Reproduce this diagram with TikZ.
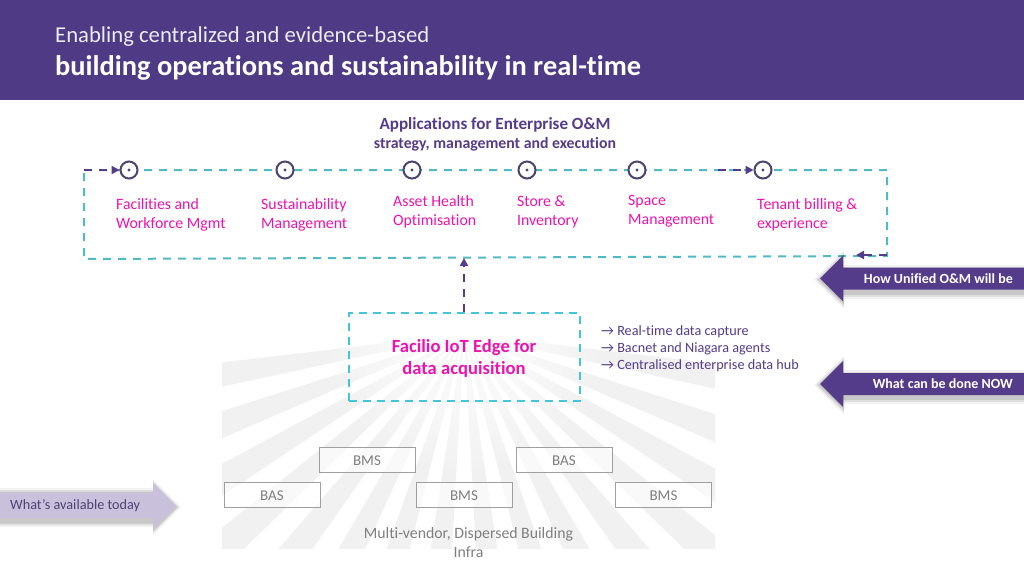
\documentclass[tikz,border=0pt]{standalone}
\usepackage{fontspec}
\setmainfont{Carlito}[Ligatures=NoCommon]
\usetikzlibrary{arrows.meta}
\definecolor{hdr}{HTML}{4F3A85}
\definecolor{pur}{HTML}{553C8B}
\definecolor{mag}{HTML}{EC14AE}
\definecolor{teal1}{HTML}{52BAC4}
\definecolor{cyan1}{HTML}{45C5DD}
\definecolor{ray}{HTML}{F1F1F1}
\definecolor{lil}{HTML}{C9C1DC}
\definecolor{gtx}{HTML}{7F7F7F}
\definecolor{dot}{HTML}{4D4373}
\tikzset{
 fs/.style={font=\fontsize{#1}{#1}\selectfont},
 app/.style={align=left,anchor=west,text=mag,font=\fontsize{15.8}{19}\selectfont},
 dotc/.style={circle,draw=dot,line width=2pt,minimum size=17pt,inner sep=0pt,fill=white},
 tealdash/.style={draw=teal1,line width=2pt,dash pattern=on 8pt off 7pt},
 purdash/.style={draw=pur,line width=2pt,dash pattern=on 8pt off 7pt,-{Triangle[length=8pt,width=8pt]}},
 bx/.style={draw=gray!75,line width=1pt,fill=white,fill opacity=.6,text opacity=1,minimum width=96pt,minimum height=25pt,text=gtx,fs=15,inner sep=0,text height=11pt,text depth=0pt},
 tag/.style={font=\bfseries\fontsize{14}{14}\selectfont,text=white,anchor=east},
}
\begin{document}
\begin{tikzpicture}[x=1pt,y=-1pt,every node/.style={inner sep=0pt}]
\useasboundingbox (0,0) rectangle (1024,576);
\fill[white] (0,0) rectangle (1024,576);
\fill[hdr] (0,0) rectangle (1024,100);
\node[anchor=base west,text=white!90!hdr,fs=22.7] (t1) at (55,42) {Enabling centralized and evidence-based};
\node[anchor=base west,text=white,font=\bfseries\fontsize{28.4}{28.4}\selectfont] (t2) at (55,75) {building operations and sustainability in real-time};
\node[text=pur,font=\bfseries\fontsize{17.1}{17}\selectfont] (h1) at (495,124.5) {Applications for Enterprise O\&M};
\node[text=pur,font=\bfseries\fontsize{15.8}{15}\selectfont] (h2) at (495,144.5) {strategy, management and execution};
% rays
\begin{scope}
\clip (222,342) rectangle (715,548);
\begin{scope}[shift={(464,334)}]
\foreach \a in {9.5,20.5,31,41.5,52,62.5,73,84,96,107,117.5,128,138.5,149,159.5,170.5}{
  \fill[ray] (0,0) -- (\a-2.8:700) -- (\a+2.8:700) -- cycle;
}
\foreach \r in {135,125,115,105,95,85,75,65,55,45}{
  \fill[white,opacity=.14] (0,0) circle (\r);
}
\end{scope}
\end{scope}
% loop
\coordinate (lt) at (84,170);
\coordinate (rt) at (887,170);
\coordinate (rb) at (887,256);
\coordinate (lb) at (84,259);
\coordinate (mid) at (464,258);
\draw[tealdash] (lt) -- (rt) -- (rb) -- (lb) -- cycle;
\node[dotc] (c1) at (129,170) {};
\node[dotc] (c2) at (285,170) {};
\node[dotc] (c3) at (412,170) {};
\node[dotc] (c4) at (527,170) {};
\node[dotc] (c5) at (637,170) {};
\node[dotc] (c6) at (763,170) {};
\foreach \c in {c1,c2,c3,c4,c5,c6}{\fill[dot] (\c) circle (1.6pt);}
\coordinate (p6) at (718,170);
\coordinate (rbe) at (856,255);
\draw[purdash] (lt) -- (c1);
\draw[purdash] (p6) -- (c6);
\draw[purdash] (rb|-rbe) -- (rbe);
\node[app] (a1) at (116,214.5) {Facilities and\\Workforce Mgmt};
\node[app] (a2) at (261,214.5) {Sustainability\\Management};
\node[app] (a3) at (393,212) {Asset Health\\Optimisation};
\node[app] (a4) at (517,212) {Store \&\\Inventory};
\node[app] (a5) at (628,211.5) {Space\\Management};
\node[app] (a6) at (757,214.5) {Tenant billing \&\\experience};
% edge
\node[draw=cyan1,line width=2pt,dash pattern=on 8pt off 6pt,minimum width=231pt,minimum height=88pt,align=center,text=mag,font=\bfseries\fontsize{18.6}{22}\selectfont,text depth=1pt] (edge) at (464,357) {Facilio IoT Edge for\\data acquisition};
\draw[purdash] (edge.north) -- (edge.north|-mid);
\node[anchor=west,text=pur,align=left,font=\fontsize{14.2}{17}\selectfont] (list) at (601,348.5) {→ Real-time data capture\\→ Bacnet and Niagara agents\\→ Centralised enterprise data hub};
% boxes
\node[bx] (b1) at (367,460) {BMS};
\node[bx] (b2) at (564,460) {BAS};
\node[bx] (b3) at (272,495) {BAS};
\node[bx] (b4) at (464,495) {BMS};
\node[bx] (b5) at (663.5,495) {BMS};
\node[text=gtx,align=center,font=\fontsize{15.8}{19}\selectfont] (cap) at (468.5,542.5) {Multi-vendor, Dispersed Building\\Infra};
% tags
\foreach \y/\h in {278.5/How Unified O\&M will be,384/What can be done NOW}{
 \foreach \i/\o in {6/.05,4/.08,2/.1}{
   \fill[black,opacity=\o] (1024,\y-10-\i+2) -- (843,\y-10-\i+2) -- (843,\y+\i+14) -- (1024,\y+\i+14) -- cycle;
   \fill[black,opacity=\o] (844,\y-22-\i) -- (820-\i,\y+1) -- (844,\y+24+\i) -- cycle;
 }
 \fill[pur] (1024,\y-11) -- (843,\y-11) -- (843,\y-23) -- (820,\y) -- (843,\y+23) -- (843,\y+11) -- (1024,\y+11) -- cycle;
 \node[tag] at (1013,\y) {\h};
}
\foreach \i/\o in {5/.05,3/.08,1.5/.1}{
 \fill[black,opacity=\o] (0,491-\i+2) -- (153,491-\i+2) -- (153,484-\i) -- (176+\i,507) -- (153,530+\i) -- (153,522+\i) -- (0,522+\i) -- cycle;
}
\fill[lil] (0,493) -- (153,493) -- (153,483) -- (176,506) -- (153,528) -- (153,518) -- (0,518) -- cycle;
\node[anchor=west,text=dot,fs=14.2] (av) at (10,506) {What’s available today};
\end{tikzpicture}
\end{document}
